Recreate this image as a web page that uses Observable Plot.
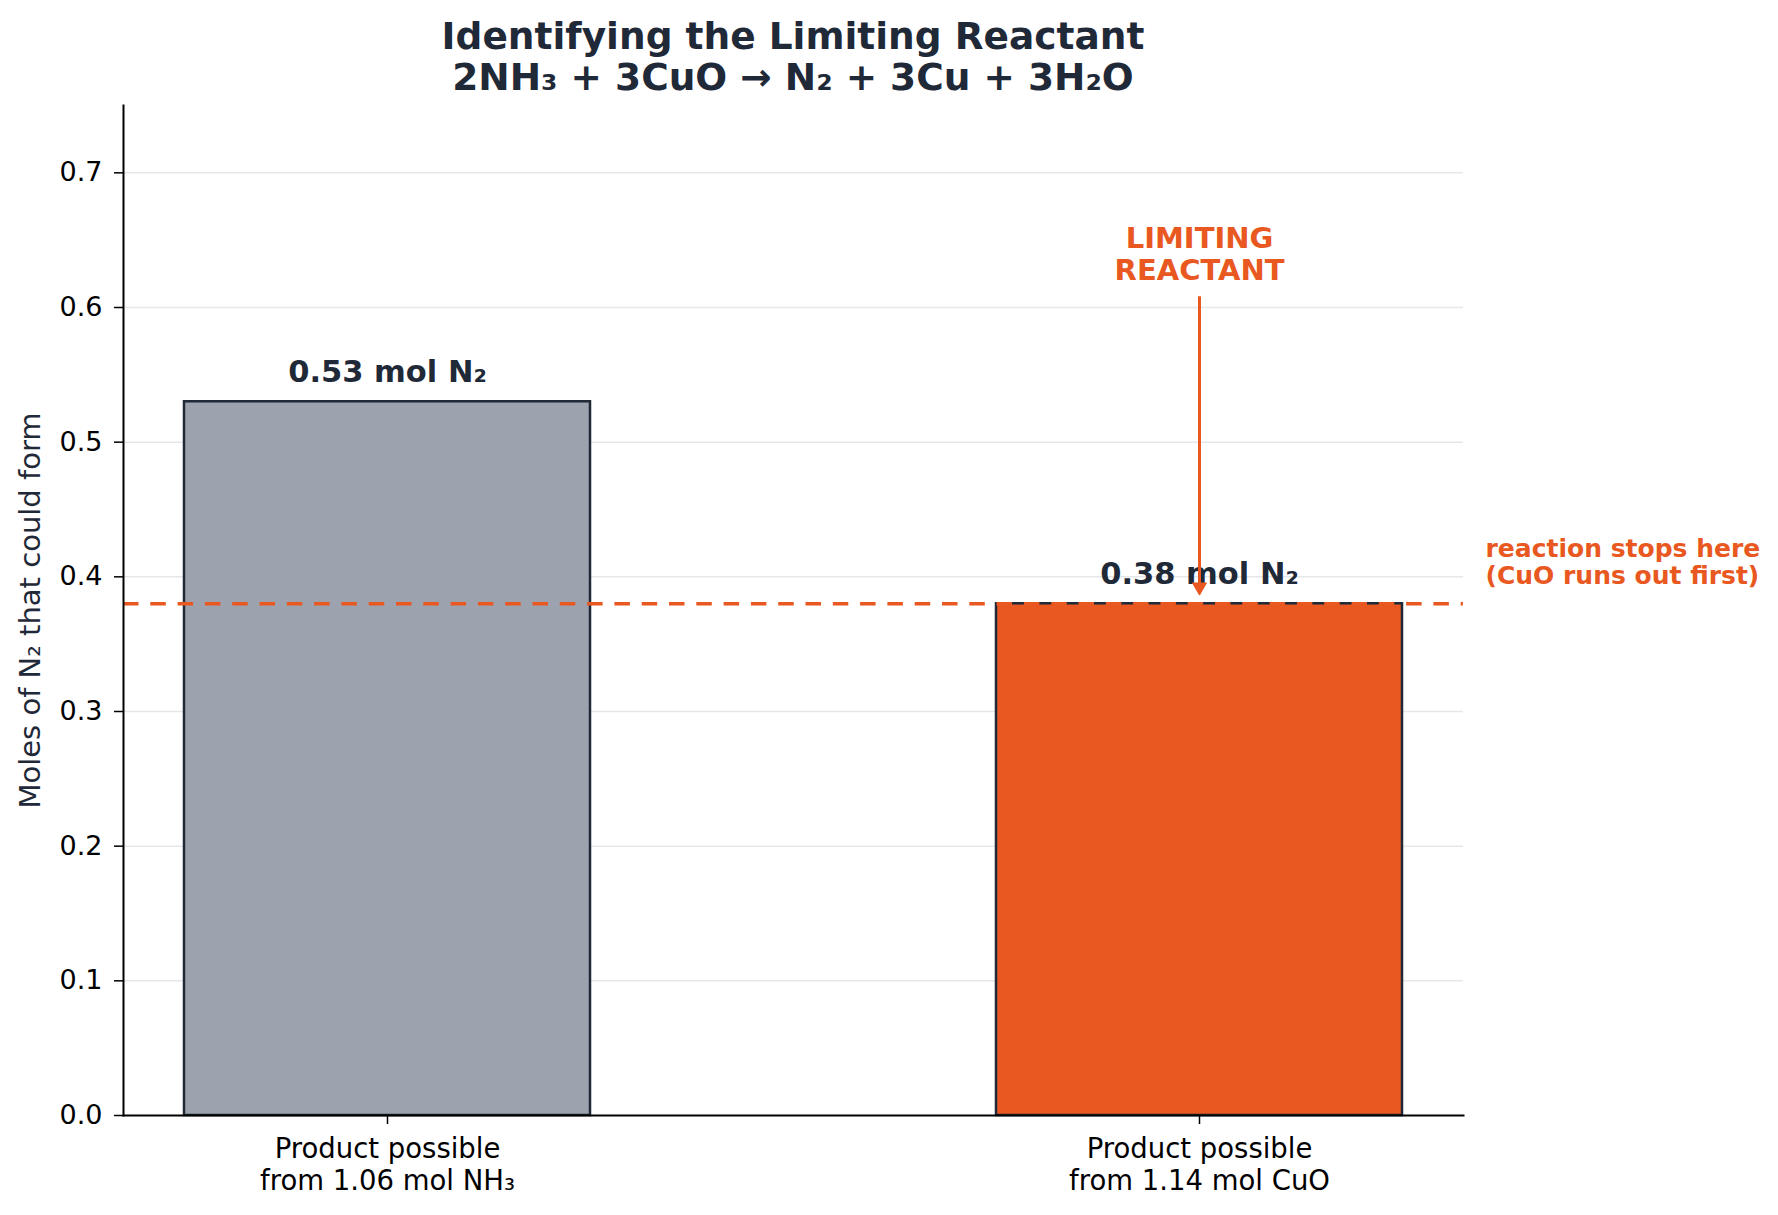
<!DOCTYPE html>
<html>
<head>
<meta charset="utf-8">
<script src="https://cdn.jsdelivr.net/npm/d3@7"></script>
<script src="https://cdn.jsdelivr.net/npm/@observablehq/plot@0.6"></script>
<style>
  body { margin: 0; background: #ffffff; font-family: "DejaVu Sans", sans-serif; }
  #title { width: 1586px; height: 95px; box-sizing: border-box; padding-top: 16px; text-align: center;
           font-weight: bold; font-size: 37.5px; line-height: 41px; color: #1f2937; white-space: pre; }
</style>
</head>
<body>
<div id="title"></div>
<div id="chart"></div>
<script>
const titleLines = ["Identifying the Limiting Reactant", "2NH₃ + 3CuO → N₂ + 3Cu + 3H₂O"];
const categories = ["Product possible\nfrom 1.06 mol NH₃", "Product possible\nfrom 1.14 mol CuO"];
const molesN2 = [0.53, 0.38];
const barLabels = ["0.53 mol N₂", "0.38 mol N₂"];
const barColors = ["#9ca3af", "#e85820"];
const yTicks = [0.0, 0.1, 0.2, 0.3, 0.4, 0.5, 0.6, 0.7];
const yLabel = "Moles of N₂ that could form";
const limitValue = 0.38;
const limitNote = "reaction stops here\n(CuO runs out first)";
const arrowLabel = "LIMITING\nREACTANT";
const arrowLabelY = 0.64;
const arrowStart = 0.608;
const arrowEnd = 0.3865;

document.getElementById("title").textContent = titleLines.join("\n");

const dark = "#1f2937";
const orange = "#e85820";
const data = categories.map((c, i) => ({cat: c, v: molesN2[i], label: barLabels[i], color: barColors[i]}));
const limitingCat = categories[1];

const chart = Plot.plot({
  width: 1778,
  height: 1120,
  marginTop: 10,
  marginBottom: 100,
  marginLeft: 123,
  marginRight: 315,
  style: {fontFamily: "DejaVu Sans, sans-serif", fontSize: "27px", color: "#000"},
  x: {domain: categories, paddingInner: 0.5, paddingOuter: 0.075, align: 0.5, axis: null},
  y: {domain: [0, 0.75], axis: null},
  color: {type: "identity"},
  marks: [
    Plot.gridY(yTicks.filter(t => t > 0), {stroke: "#e5e7eb", strokeOpacity: 1, strokeWidth: 1.5}),
    Plot.barY(data, {x: "cat", y: "v", fill: "color", stroke: dark, strokeWidth: 2.5}),
    Plot.ruleY([limitValue], {stroke: orange, strokeWidth: 3.5, strokeDasharray: "15.5,11.8"}),
    Plot.axisY({ticks: yTicks, tickFormat: d3.format(".1f"), tickSize: 9, tickPadding: 12, strokeWidth: 1.5, fontSize: 27, label: null, fill: "#000"}),
    Plot.frame({anchor: "left", stroke: "#000", strokeWidth: 2}),
    Plot.frame({anchor: "bottom", stroke: "#000", strokeWidth: 2}),
    Plot.axisX({ticks: categories, tickSize: 9, strokeWidth: 1.5, text: null, label: null}),
    Plot.text(categories, {x: d => d, text: d => d, frameAnchor: "bottom", lineAnchor: "top", dy: 20, lineHeight: 1.16, fontSize: 27.5, fill: "#000"}),
    Plot.text(data, {x: "cat", y: "v", text: "label", dy: -30, fontSize: 30.5, fontWeight: "bold", fill: dark}),
    Plot.ruleX([limitingCat], {x: d => d, y1: arrowStart, y2: arrowEnd + 0.008, stroke: orange, strokeWidth: 3}),
    Plot.dot([limitingCat], {x: d => d, y: arrowEnd, symbol: "triangle", rotate: 180, r: 5.2, fill: orange, stroke: orange, strokeWidth: 1, dy: -8}),
    Plot.text([arrowLabel], {x: () => limitingCat, y: () => arrowLabelY, text: d => d, fontSize: 29, fontWeight: "bold", fill: orange, lineHeight: 1.095}),
    Plot.text([limitNote], {frameAnchor: "right", y: () => limitValue, text: d => d, dx: 22, dy: -42, textAnchor: "start", fontSize: 25, fontWeight: "bold", fill: orange, lineHeight: 1.09}),
    Plot.text([yLabel], {frameAnchor: "left", text: d => d, dx: -93, rotate: -90, textAnchor: "middle", fontSize: 29, fill: dark})
  ]
});
document.getElementById("chart").appendChild(chart);
</script>
</body>
</html>
